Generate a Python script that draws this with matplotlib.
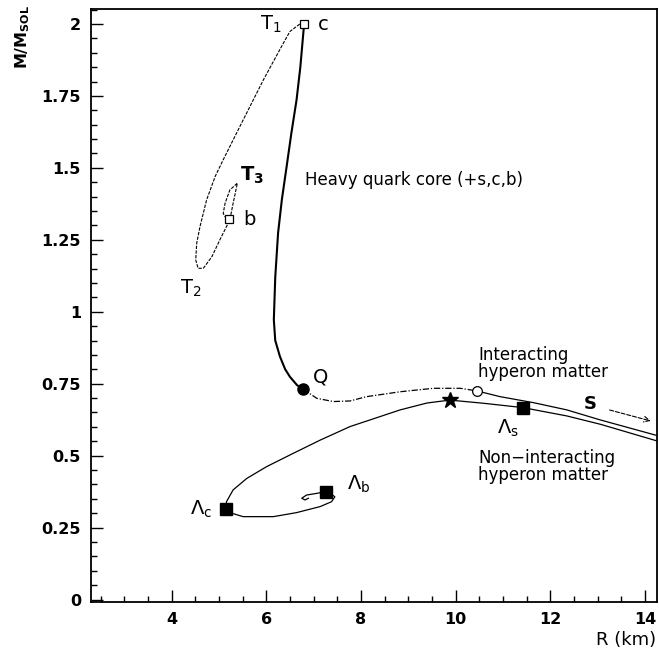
import numpy as np
import matplotlib.pyplot as plt
from matplotlib.ticker import MultipleLocator, FixedLocator, FuncFormatter

# stable heavy-quark branch, c -> Q
heavy_R = [6.80, 6.72, 6.64, 6.53, 6.43, 6.33, 6.25, 6.19, 6.16, 6.19, 6.29, 6.40, 6.50, 6.65, 6.78]
heavy_M = [2.000, 1.850, 1.736, 1.620, 1.504, 1.390, 1.274, 1.120, 0.972, 0.900, 0.844, 0.800, 0.774, 0.745, 0.731]

# unstable loop T1 -> T2 -> T3
loop_R = [6.80, 6.71, 6.50, 6.36, 5.94, 5.44, 5.09, 4.92, 4.74, 4.60, 4.53, 4.51, 4.56, 4.67,
          4.85, 5.02, 5.23, 5.30, 5.39, 5.23, 5.13, 5.09, 5.15]
loop_M = [2.005, 2.000, 1.974, 1.933, 1.806, 1.643, 1.528, 1.470, 1.389, 1.296, 1.238, 1.180, 1.151, 1.151,
          1.191, 1.250, 1.319, 1.377, 1.447, 1.423, 1.377, 1.342, 1.325]

# Q -> onset of hyperons (dash-dot)
trans_R = [6.78, 7.07, 7.42, 7.77, 8.12, 8.83, 9.53, 10.10, 10.45]
trans_M = [0.731, 0.699, 0.688, 0.690, 0.705, 0.722, 0.734, 0.734, 0.725]

# interacting hyperon matter
inter_R = [10.45, 10.94, 11.65, 12.35, 13.06, 14.30]
inter_M = [0.725, 0.705, 0.684, 0.659, 0.624, 0.568]

# non-interacting hyperon matter (spiral Lambda_b -> Lambda_c -> star -> Lambda_s)
nonint_R = [6.89, 6.82, 6.75, 6.85, 7.07, 7.26, 7.35, 7.45, 7.38, 7.14, 6.64, 6.15, 5.51, 5.27, 5.15,
            5.16, 5.30, 5.59, 6.01, 6.57, 7.14, 7.77, 8.83, 9.40, 9.88, 10.59, 11.42, 12.35, 13.06, 14.30]
nonint_M = [0.352, 0.346, 0.352, 0.363, 0.369, 0.375, 0.369, 0.357, 0.340, 0.323, 0.302, 0.288, 0.288, 0.300, 0.314,
            0.340, 0.381, 0.421, 0.462, 0.508, 0.554, 0.601, 0.659, 0.683, 0.693, 0.682, 0.667, 0.638, 0.609, 0.549]

# special points
open_sq_R = [6.80, 5.22]
open_sq_M = [2.000, 1.321]
filled_sq_R = [5.15, 7.26, 11.42]
filled_sq_M = [0.314, 0.375, 0.667]
Q_point = (6.78, 0.731)
onset_point = (10.45, 0.725)
star_point = (9.88, 0.693)

y_ticks = [0, 0.25, 0.5, 0.75, 1, 1.25, 1.5, 1.75, 2]
y_tick_labels = ['0', '0.25', '0.5', '0.75', '1', '1.25', '1.5', '1.75', '2']
x_ticks = [4, 6, 8, 10, 12, 14]

plt.rcParams['font.family'] = ['DejaVu Sans']

fig = plt.figure(figsize=(6.59, 6.60), dpi=100)
ax = fig.add_axes([0.1376, 0.0874, 0.8589, 0.8985])

ax.plot(heavy_R, heavy_M, color='black', lw=1.5, solid_capstyle='round')
ax.plot(loop_R, loop_M, color='black', lw=0.8, linestyle=(0, (3, 1.2)))
ax.plot(trans_R, trans_M, color='black', lw=0.9, linestyle=(0, (5, 1.5, 1, 1.5)))
ax.plot(inter_R, inter_M, color='black', lw=0.9)
ax.plot(nonint_R, nonint_M, color='black', lw=0.9)

ax.plot(open_sq_R, open_sq_M, 's', ms=6, mfc='white', mec='black', mew=0.9, zorder=5)
ax.plot(filled_sq_R, filled_sq_M, 's', ms=8, color='black', zorder=5)
ax.plot(*Q_point, 'o', ms=8, color='black', zorder=5)
ax.plot(*onset_point, 'o', ms=7, mfc='white', mec='black', mew=0.9, zorder=5)
ax.plot(*star_point, '*', ms=12, color='black', zorder=5)

# text labels
sub = lambda s: r'$_{\mathregular{%s}}$' % s
ax.text(6.33, 1.997, 'T' + sub('1'), fontsize=14, ha='right', va='center')
ax.text(7.10, 1.997, 'c', fontsize=14, ha='left', va='center')
ax.text(5.44, 1.475, 'T' + sub('3'), fontsize=14, ha='left', va='center', fontweight='bold')
ax.text(5.51, 1.319, 'b', fontsize=14, ha='left', va='center')
ax.text(4.18, 1.083, 'T' + sub('2'), fontsize=14, ha='left', va='center')
ax.text(6.82, 1.458, 'Heavy quark core (+s,c,b)', fontsize=12, ha='left', va='center')
ax.text(6.99, 0.773, 'Q', fontsize=14, ha='left', va='center')
ax.text(10.48, 0.820, 'Interacting\nhyperon matter', fontsize=12, ha='left', va='center',
        linespacing=0.95)
ax.text(10.48, 0.462, 'Non\u2212interacting\nhyperon matter', fontsize=12, ha='left', va='center',
        linespacing=0.95)
ax.text(10.88, 0.596, '\u039b' + sub('s'), fontsize=14, ha='left', va='center')
ax.text(7.70, 0.401, '\u039b' + sub('b'), fontsize=14, ha='left', va='center')
ax.text(4.85, 0.315, '\u039b' + sub('c'), fontsize=14, ha='right', va='center')
ax.text(12.70, 0.680, 'S', fontsize=13, ha='left', va='center', fontweight='bold')
ax.annotate('', xy=(14.18, 0.618), xytext=(13.20, 0.661),
            arrowprops=dict(arrowstyle='->', lw=0.8, linestyle='--', color='black'))

ax.set_xlim(2.29, 14.25)
ax.set_ylim(-0.0097, 2.051)

ax.yaxis.set_major_locator(FixedLocator(y_ticks))
ax.set_yticklabels(y_tick_labels)
ax.yaxis.set_minor_locator(MultipleLocator(0.05))
ax.xaxis.set_major_locator(FixedLocator(x_ticks))
ax.xaxis.set_minor_locator(MultipleLocator(0.5))

ax.tick_params(which='both', direction='in', top=False, right=False, width=1.0)
ax.tick_params(which='major', length=8.5, labelsize=11.5)
ax.tick_params(axis='y', which='major', pad=7)
ax.tick_params(axis='x', which='major', pad=7)
ax.tick_params(which='minor', length=4.5)
for lab in ax.get_xticklabels() + ax.get_yticklabels():
    lab.set_fontweight('bold')
for sp in ax.spines.values():
    sp.set_linewidth(1.3)

fig.text(0.035, 0.993, r'M/M$_{\mathregular{SOL}}$', rotation=90, ha='center', va='top',
         fontsize=11.5, fontweight='bold')
fig.text(0.996, 0.030, 'R (km)', ha='right', va='center', fontsize=13)

fig.savefig('out.png', dpi=100)
